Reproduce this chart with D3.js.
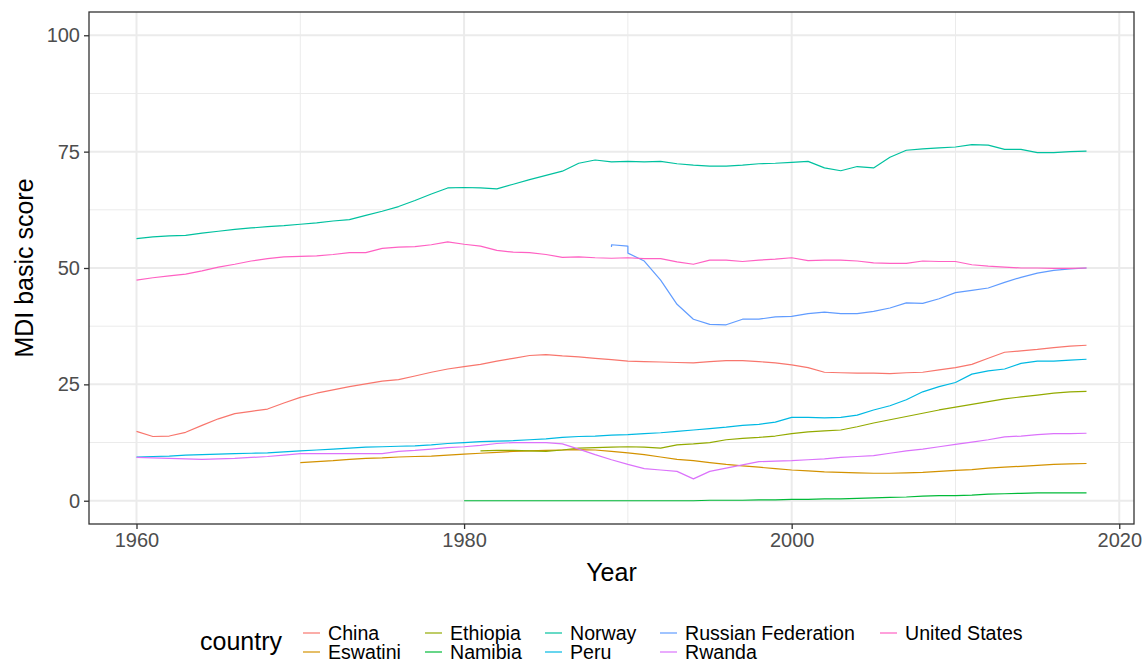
<!DOCTYPE html>
<html>
<head>
<meta charset="utf-8">
<script src="https://cdn.jsdelivr.net/npm/d3@7"></script>
<style>
  body { margin: 0; background: #fff; }
  svg { font-family: "Liberation Sans", Arial, sans-serif; }
</style>
</head>
<body>
<div class="render"></div>
<script>
"use strict";

// countries in legend order (ggplot hue palette, 9 levels)
var countries = ["China", "Eswatini", "Ethiopia", "Namibia", "Norway", "Peru", "Russian Federation", "Rwanda", "United States"];
var colors = ["#F8766D", "#D39200", "#93AA00", "#00BA38", "#00C19F", "#00B9E3", "#619CFF", "#DB72FB", "#FF61C3"];

var yearsFull = d3.range(1960, 2019);
var yearsEswatini = d3.range(1970, 2019);
var yearsEthiopia = d3.range(1981, 2019);
var yearsNamibia = d3.range(1980, 2019);
var yearsRussia = [1989, 1989, 1990, 1990].concat(d3.range(1991, 2019));

var china = [14.9, 13.8, 13.9, 14.7, 16.2, 17.6, 18.7, 19.2, 19.7, 21.0,
  22.2, 23.1, 23.8, 24.5, 25.1, 25.7, 26.0, 26.8, 27.6, 28.3,
  28.8, 29.3, 30.0, 30.6, 31.2, 31.4, 31.1, 30.9, 30.6, 30.3,
  30.0, 29.9, 29.8, 29.7, 29.6, 29.9, 30.1, 30.1, 29.9, 29.6,
  29.2, 28.6, 27.6, 27.5, 27.4, 27.4, 27.3, 27.5, 27.6, 28.1,
  28.6, 29.3, 30.6, 31.9, 32.2, 32.5, 32.9, 33.2, 33.4];
var eswatini = [8.2, 8.4, 8.6, 8.9, 9.1, 9.2, 9.4, 9.5, 9.6, 9.8,
  10.0, 10.2, 10.4, 10.6, 10.7, 10.8, 10.9, 11.0, 10.9, 10.6,
  10.3, 9.9, 9.4, 8.9, 8.6, 8.2, 7.8, 7.5, 7.2, 6.9,
  6.6, 6.4, 6.2, 6.1, 6.0, 5.9, 5.9, 6.0, 6.1, 6.3,
  6.5, 6.7, 7.0, 7.2, 7.4, 7.6, 7.8, 7.9, 8.0];
var ethiopia = [10.7, 10.8, 10.8, 10.7, 10.6, 10.9, 11.3, 11.4, 11.5,
  11.6, 11.5, 11.3, 12.0, 12.2, 12.5, 13.1, 13.4, 13.6, 13.9,
  14.4, 14.8, 15.0, 15.2, 15.9, 16.7, 17.4, 18.1, 18.8, 19.5,
  20.1, 20.7, 21.3, 21.9, 22.3, 22.7, 23.1, 23.4, 23.5];
var namibia = [0.0, 0.0, 0.0, 0.0, 0.0, 0.0, 0.0, 0.0, 0.0, 0.0,
  0.0, 0.0, 0.0, 0.0, 0.0, 0.1, 0.1, 0.1, 0.2, 0.2,
  0.3, 0.3, 0.4, 0.4, 0.5, 0.6, 0.7, 0.8, 1.0, 1.1,
  1.1, 1.2, 1.4, 1.5, 1.6, 1.7, 1.7, 1.7, 1.7];
var norway = [56.3, 56.7, 56.9, 57.0, 57.5, 57.9, 58.3, 58.6, 58.9, 59.1,
  59.4, 59.7, 60.1, 60.4, 61.3, 62.2, 63.2, 64.5, 65.9, 67.2,
  67.3, 67.2, 67.0, 68.0, 69.0, 69.9, 70.8, 72.5, 73.2, 72.8,
  72.9, 72.8, 72.9, 72.4, 72.1, 71.9, 71.9, 72.1, 72.4, 72.5,
  72.7, 72.9, 71.5, 70.9, 71.8, 71.5, 73.8, 75.3, 75.6, 75.8,
  76.0, 76.5, 76.4, 75.5, 75.5, 74.8, 74.8, 75.0, 75.1];
var peru = [9.4, 9.5, 9.6, 9.8, 9.9, 10.0, 10.1, 10.2, 10.3, 10.5,
  10.7, 10.9, 11.1, 11.3, 11.5, 11.6, 11.7, 11.8, 12.0, 12.3,
  12.5, 12.7, 12.8, 12.9, 13.1, 13.3, 13.6, 13.8, 13.9, 14.1,
  14.2, 14.4, 14.6, 14.9, 15.2, 15.5, 15.8, 16.2, 16.4, 16.9,
  17.9, 17.9, 17.8, 17.9, 18.4, 19.5, 20.4, 21.7, 23.4, 24.5,
  25.4, 27.2, 27.9, 28.3, 29.5, 30.0, 30.0, 30.2, 30.4];
var russia = [54.5, 55.0, 54.7, 53.2,
  51.5, 47.4, 42.2, 39.0, 37.9, 37.8, 39.0, 39.0, 39.5,
  39.6, 40.2, 40.5, 40.2, 40.2, 40.7, 41.4, 42.5, 42.4, 43.4,
  44.7, 45.2, 45.7, 46.9, 48.0, 48.9, 49.5, 49.8, 50.0];
var rwanda = [9.3, 9.2, 9.1, 9.0, 8.9, 9.0, 9.1, 9.3, 9.5, 9.8,
  10.1, 10.1, 10.1, 10.1, 10.1, 10.1, 10.6, 10.8, 11.1, 11.4,
  11.6, 11.9, 12.3, 12.5, 12.5, 12.5, 12.2, 11.1, 9.9, 8.8,
  7.8, 6.9, 6.6, 6.3, 4.7, 6.3, 7.0, 7.7, 8.4, 8.5,
  8.6, 8.8, 9.0, 9.3, 9.5, 9.7, 10.2, 10.7, 11.1, 11.6,
  12.1, 12.6, 13.1, 13.7, 13.9, 14.2, 14.4, 14.4, 14.5];
var unitedStates = [47.4, 47.9, 48.3, 48.7, 49.4, 50.2, 50.8, 51.5, 52.0, 52.4,
  52.5, 52.6, 52.9, 53.3, 53.3, 54.2, 54.5, 54.6, 55.0, 55.6,
  55.1, 54.7, 53.8, 53.4, 53.3, 52.9, 52.3, 52.4, 52.2, 52.1,
  52.2, 52.0, 52.0, 51.3, 50.8, 51.7, 51.7, 51.4, 51.7, 51.9,
  52.2, 51.6, 51.7, 51.7, 51.5, 51.1, 51.0, 51.0, 51.5, 51.4,
  51.4, 50.7, 50.4, 50.2, 50.0, 50.0, 49.9, 49.9, 50.0];

var xTicks = [1960, 1980, 2000, 2020];
var xMinor = [1970, 1990, 2010];
var yTicks = [0, 25, 50, 75, 100];
var yMinor = [12.5, 37.5, 62.5, 87.5];

var seriesYears = [yearsFull, yearsEswatini, yearsEthiopia, yearsNamibia, yearsFull, yearsFull, yearsRussia, yearsFull, yearsFull];
var seriesValues = [china, eswatini, ethiopia, namibia, norway, peru, russia, rwanda, unitedStates];

function draw() {
   var series = countries.map(function (c, i) {
      return {
         country: c,
         color: colors[i],
         points: seriesYears[i].map(function (yr, j) { return {year: yr, value: seriesValues[i][j]}; })
      };
   });

   var w = 1146;
   var h = 661;
   var pLeft = 89, pRight = 1134, pTop = 12, pBottom = 524;

   var x = d3.scaleLinear().domain([1960 - 2.9, 2018 + 2.9]).range([pLeft, pRight]);
   var y = d3.scaleLinear().domain([-5, 105]).range([pBottom, pTop]);

   var svg = d3.select('.render').append('svg').attr('width', w).attr('height', h);

   // grid
   var grid = svg.append('g');
   grid.selectAll('.ymin').data(yMinor).enter().append('line')
      .attr('x1', pLeft).attr('x2', pRight).attr('y1', y).attr('y2', y)
      .attr('stroke', '#ebebeb').attr('stroke-width', 1);
   grid.selectAll('.xmin').data(xMinor).enter().append('line')
      .attr('y1', pTop).attr('y2', pBottom).attr('x1', x).attr('x2', x)
      .attr('stroke', '#ebebeb').attr('stroke-width', 1);
   grid.selectAll('.ymaj').data(yTicks).enter().append('line')
      .attr('x1', pLeft).attr('x2', pRight).attr('y1', y).attr('y2', y)
      .attr('stroke', '#ebebeb').attr('stroke-width', 2);
   grid.selectAll('.xmaj').data(xTicks).enter().append('line')
      .attr('y1', pTop).attr('y2', pBottom).attr('x1', x).attr('x2', x)
      .attr('stroke', '#ebebeb').attr('stroke-width', 2);

   // lines
   var line = d3.line().x(function (d) { return x(d.year); }).y(function (d) { return y(d.value); });
   svg.append('g').selectAll('path').data(series).enter().append('path')
      .attr('d', function (d) { return line(d.points); })
      .attr('fill', 'none')
      .attr('stroke', function (d) { return d.color; })
      .attr('stroke-width', 1.2)
      .attr('stroke-linejoin', 'round');

   // panel border
   svg.append('rect').attr('x', pLeft).attr('y', pTop).attr('width', pRight - pLeft).attr('height', pBottom - pTop)
      .attr('fill', 'none').attr('stroke', '#333333').attr('stroke-width', 1.3);

   // axes
   var xAxis = d3.axisBottom(x).tickValues(xTicks).tickFormat(d3.format('d')).tickSizeInner(5).tickSizeOuter(0).tickPadding(4);
   var yAxis = d3.axisLeft(y).tickValues(yTicks).tickSizeInner(5).tickSizeOuter(0).tickPadding(4);

   var gx = svg.append('g').attr('transform', 'translate(0,' + pBottom + ')').call(xAxis);
   var gy = svg.append('g').attr('transform', 'translate(' + pLeft + ',0)').call(yAxis);
   [gx, gy].forEach(function (g) {
      g.select('.domain').remove();
      g.selectAll('.tick line').attr('stroke', '#333333').attr('stroke-width', 1.3);
      g.selectAll('.tick text').attr('fill', '#4d4d4d').style('font-size', '20px')
         .style('font-family', 'Liberation Sans, Arial, sans-serif');
   });

   svg.append('text').text('Year').attr('x', (pLeft + pRight) / 2).attr('y', 581)
      .attr('text-anchor', 'middle').style('font-size', '25px');
   svg.append('text').text('MDI basic score').attr('transform', 'translate(33,' + ((pTop + pBottom) / 2) + ')rotate(-90)')
      .attr('text-anchor', 'middle').style('font-size', '25px');

   // legend
   var legend = svg.append('g');
   legend.append('text').text('country').attr('x', 200).attr('y', 650).style('font-size', '25px');
   var colX = [303, 425, 545, 660, 880];
   var rowY = [633, 652];
   series.forEach(function (s, i) {
      var cx = colX[Math.floor(i / 2)];
      var cy = rowY[i % 2];
      legend.append('line').attr('x1', cx).attr('x2', cx + 17).attr('y1', cy).attr('y2', cy)
         .attr('stroke', s.color).attr('stroke-width', 1.2);
      legend.append('text').text(s.country).attr('x', cx + 25).attr('y', cy + 6.5).style('font-size', '19.6px');
   });
}

draw();
</script>
</body>
</html>
